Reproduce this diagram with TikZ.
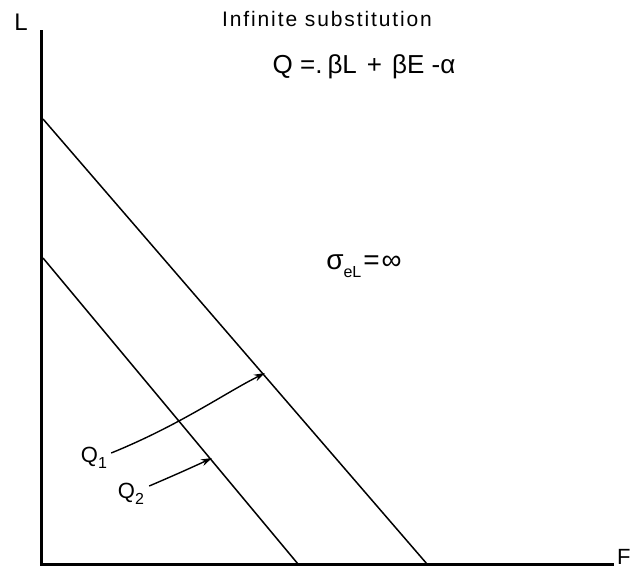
\documentclass[tikz,border=0pt]{standalone}
\usepackage{fontspec}
\setmainfont{Liberation Sans}
\usetikzlibrary{arrows.meta}
\newcommand{\lsub}[1]{\raisebox{-0.5ex}{\fontsize{16}{18}\selectfont #1}}
\begin{document}
\begin{tikzpicture}[x=1pt,y=-1pt,
  axis/.style={line width=3pt,line cap=rect},
  iso/.style={line width=1.5pt},
  lbl/.style={inner sep=0pt,font=\fontsize{20}{24}\selectfont},
  pointer/.style={line width=1.4pt,-{Stealth[length=11pt,width=7pt]}}]
\useasboundingbox (0,0) rectangle (639,572);
\coordinate (o) at (41,564);
\coordinate (ytop) at (41,32);
\coordinate (xend) at (612,564);
\draw[axis] (ytop) -- (o) -- (xend);
\node[lbl,font=\fontsize{24}{26}\selectfont] (L) at (21,22) {L};
\node[lbl,anchor=west,font=\fontsize{22}{24}\selectfont] (F) at (617,557) {F};
\node[lbl,font=\fontsize{21}{24}\selectfont] (title) at (327,19) {\addfontfeature{LetterSpace=9}Infinite substitution};
\node[lbl,font=\fontsize{26}{30}\selectfont] (eq) at (364,67) {Q =.\hspace{5pt}βL\hspace{10pt}+\hspace{10pt}βE -α};
\node[lbl,font=\fontsize{28}{30}\selectfont] (sig) at (364,266) {σ\lsub{eL}\hspace{2pt}=\hspace{2pt}∞};
\coordinate (a1) at (43,119);
\coordinate (b1) at (427,564);
\coordinate (a2) at (43,258);
\coordinate (b2) at (298,564);
\draw[iso] (a1) -- (b1);
\draw[iso] (a2) -- (b2);
\node[lbl,font=\fontsize{22}{24}\selectfont] (q1) at (94,458) {Q\lsub{1}};
\node[lbl,font=\fontsize{22}{24}\selectfont] (q2) at (131,494) {Q\lsub{2}};
\coordinate (t1) at (265,373);
\coordinate (t2) at (212,458);
\draw[pointer] (q1.east) ++(4,-5) .. controls (180,425) and (225,393) .. (t1);
\draw[pointer] (q2.east) ++(5,-8) .. controls (175,475) and (195,466) .. (t2);
\end{tikzpicture}
\end{document}
